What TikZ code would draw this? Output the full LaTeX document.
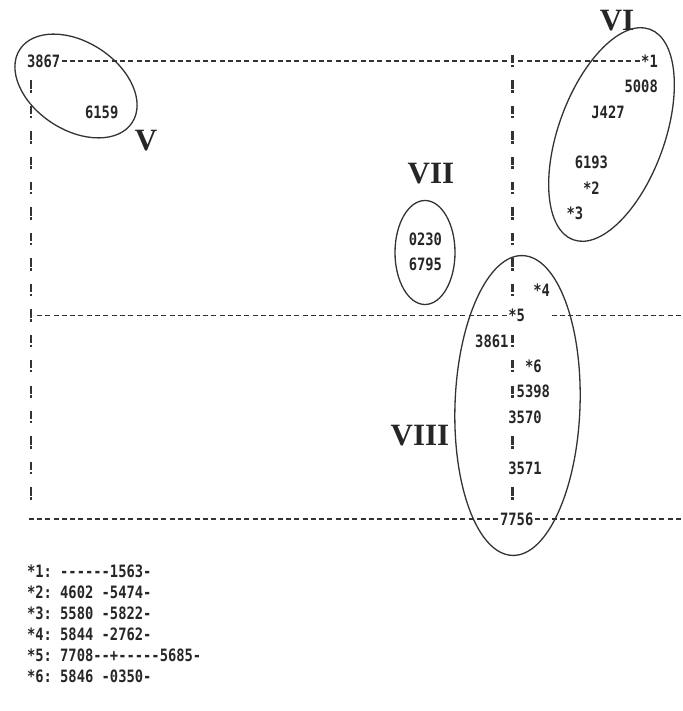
\documentclass[tikz,border=0pt]{standalone}
\usepackage{fontspec}
\newfontfamily\ascfont{DejaVu Sans Mono}[FakeStretch=0.811]
\newfontfamily\labfont{Liberation Serif}
\newcommand\colx[1]{(27+8.3*(#1))}
\newcommand\rowy[1]{(61+25.44*(#1))}
\newcommand\dshch{\mbox{-}}
\tikzset{
  asc/.style={font=\ascfont\bfseries\fontsize{17pt}{17pt}\selectfont, text=black!85, inner sep=0pt, outer sep=0pt, anchor=west, text height=12.4pt, text depth=0pt},
  lab/.style={font=\labfont\bfseries\fontsize{31pt}{31pt}\selectfont, text=black!85, inner sep=0pt},
  hline/.style={draw=black!80, line width=1.8pt, dash pattern=on 5pt off 3.3pt, dash phase=6.65pt},
  bang/.style={draw=black!80, line width=2.3pt, dash pattern=on 8.4pt off 1.5pt on 2.5pt off 13.04pt},
  ell/.style={draw=black!80, line width=1.3pt},
}
\newcommand\gridtext[4]{\node[asc] (#1) at ({\colx{#2}},{\rowy{#3}}) {#4};}
\begin{document}
\begin{tikzpicture}[x=1pt,y=-1pt]
\useasboundingbox (0,0) rectangle (682,711);
% texts of the plot
\gridtext{n3867}{0}{0}{3867}
\node[asc, minimum width=8.3pt] (bTop) at ({\colx{58}},{\rowy{0}}) {};
\gridtext{s1}{74}{0}{*1}
\gridtext{n5008}{72}{1}{5008}
\gridtext{n6159}{7}{2}{6159}
\gridtext{nJ427}{68}{2}{J427}
\gridtext{n6193}{66}{4}{6193}
\gridtext{s2}{67}{5}{*2}
\gridtext{s3}{65}{6}{*3}
\gridtext{n0230}{46}{7}{0230}
\gridtext{n6795}{46}{8}{6795}
\gridtext{s4}{61}{9}{*4}
\gridtext{s5}{58}{10}{*5}
\gridtext{n3861}{54}{11}{3861}
\gridtext{s6}{60}{12}{*6}
\gridtext{n5398}{59}{13}{5398}
\gridtext{n3570}{58}{14}{3570}
\gridtext{n3571}{58}{16}{3571}
\gridtext{n7756}{57}{18}{7756}
% free ends
\coordinate (ML) at ({\colx{1}},{\rowy{10}});
\coordinate (MG) at ({\colx{63}},{\rowy{10}});
\coordinate (MR) at (682,{\rowy{10}});
\coordinate (BL) at ({\colx{0}},{\rowy{18}});
\coordinate (BR) at (682,{\rowy{18}});
\coordinate (LT) at ([xshift=4.15pt]n3867.south west);
\coordinate (LB) at (LT |- BL);
% horizontal dashed lines
\draw[hline] (n3867.east) -- (bTop.west);
\draw[hline] (bTop.east) -- (s1.west);
\draw[hline] (ML) -- (s5.west);
\draw[hline] (MG) -- (MR);
\draw[hline] (BL) -- (n7756.west);
\draw[hline] (n7756.east) -- (BR);
% vertical lines of "!"
\draw[bang, dash phase=12.4pt, shorten >=6.3pt] (LT) -- (LB);
\draw[bang] (bTop.north) -- (bTop.north |- s5.north);
\draw[bang, dash phase=12.4pt] (bTop.north |- s5.south) -- (bTop.north |- n3570.north);
\draw[bang, dash phase=12.4pt] (bTop.north |- n3570.south) -- (bTop.north |- n3571.north);
\draw[bang, dash phase=12.4pt] (bTop.north |- n3571.south) -- (bTop.north |- n7756.north);
% groups
\draw[ell, rotate around={-33:(76,86)}] (76,86) ellipse [x radius=67pt, y radius=44pt];
\draw[ell, rotate around={70:(611.5,134.5)}] (611.5,134.5) ellipse [x radius=112pt, y radius=53pt];
\draw[ell] (425,252.5) ellipse [x radius=30pt, y radius=52pt];
\draw[ell, rotate around={-2:(517.5,405.5)}] (517.5,405.5) ellipse [x radius=62.5pt, y radius=150pt];
\node[lab] (lV) at (146,141) {V};
\node[lab] (lVI) at (617,21) {VI};
\node[lab] (lVII) at (431,174) {VII};
\node[lab] (lVIII) at (420,436) {VIII};
% legend
\node[asc] (k1) at ({\colx{0}},571.5) {*1:~\dshch\dshch\dshch\dshch\dshch\dshch 1563\dshch};
\node[asc] (k2) at ({\colx{0}},592.4) {*2:~4602~\dshch 5474\dshch};
\node[asc] (k3) at ({\colx{0}},613.3) {*3:~5580~\dshch 5822\dshch};
\node[asc] (k4) at ({\colx{0}},634.2) {*4:~5844~\dshch 2762\dshch};
\node[asc] (k5) at ({\colx{0}},655.1) {*5:~7708\dshch\dshch+\dshch\dshch\dshch\dshch\dshch 5685\dshch};
\node[asc] (k6) at ({\colx{0}},676) {*6:~5846~\dshch 0350\dshch};
\end{tikzpicture}
\end{document}
